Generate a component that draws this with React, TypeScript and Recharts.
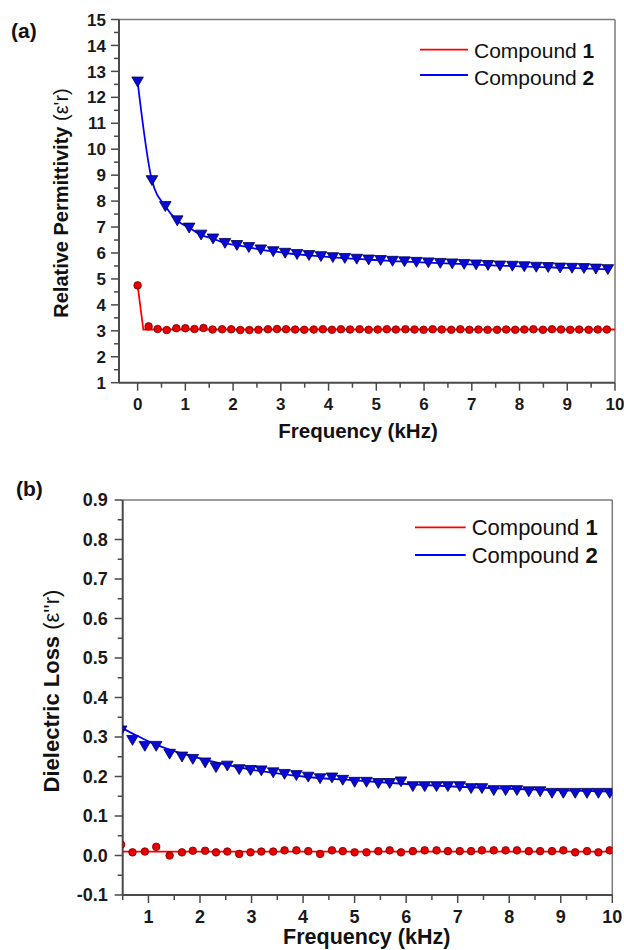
import React from 'react';
import { ComposedChart, XAxis, YAxis, Line, Scatter, ReferenceLine } from 'recharts';

const FONT = '"Liberation Sans", Arial, Helvetica, sans-serif';
const AXIS = '#4a4a4a';
const FRAME = '#7a7a7a';
const RED = '#ff0000';
const BLUE = '#0000ff';

// ---------- Panel (a): Relative permittivity ----------
const TOP_X_TICKS = [0, 0.5, 1, 1.5, 2, 2.5, 3, 3.5, 4, 4.5, 5, 5.5, 6, 6.5, 7, 7.5, 8, 8.5, 9, 9.5, 10];
const TOP_Y_TICKS = [1, 1.5, 2, 2.5, 3, 3.5, 4, 4.5, 5, 5.5, 6, 6.5, 7, 7.5, 8, 8.5, 9, 9.5, 10, 10.5, 11, 11.5, 12, 12.5, 13, 13.5, 14, 14.5, 15];

const TOP_C2_X = [0.0, 0.30, 0.58, 0.83, 1.08, 1.33, 1.58, 1.83, 2.08, 2.33, 2.58, 2.84, 3.09, 3.34, 3.59, 3.84, 4.09, 4.34, 4.59, 4.84, 5.09, 5.34, 5.59, 5.84, 6.09, 6.34, 6.59, 6.84, 7.09, 7.34, 7.59, 7.85, 8.10, 8.35, 8.60, 8.85, 9.10, 9.35, 9.60, 9.85];
const TOP_C2_Y = [12.6, 8.8, 7.8, 7.25, 6.97, 6.7, 6.55, 6.38, 6.3, 6.22, 6.13, 6.06, 6.0, 5.95, 5.91, 5.87, 5.83, 5.8, 5.77, 5.74, 5.72, 5.69, 5.67, 5.65, 5.63, 5.61, 5.59, 5.57, 5.55, 5.53, 5.51, 5.5, 5.48, 5.46, 5.45, 5.43, 5.42, 5.41, 5.39, 5.37];

const TOP_C1_X = [0.0, 0.23, 0.42, 0.61, 0.81, 1.00, 1.19, 1.38, 1.57, 1.77, 1.96, 2.15, 2.34, 2.53, 2.73, 2.92, 3.11, 3.30, 3.49, 3.69, 3.88, 4.07, 4.26, 4.45, 4.65, 4.84, 5.03, 5.22, 5.41, 5.61, 5.80, 5.99, 6.18, 6.37, 6.57, 6.76, 6.95, 7.14, 7.33, 7.53, 7.72, 7.91, 8.10, 8.29, 8.49, 8.68, 8.87, 9.06, 9.25, 9.45, 9.64, 9.83];
const TOP_C1_Y = [4.75, 3.17, 3.07, 3.03, 3.10, 3.10, 3.07, 3.11, 3.05, 3.06, 3.06, 3.03, 3.03, 3.04, 3.06, 3.07, 3.06, 3.05, 3.04, 3.05, 3.06, 3.04, 3.06, 3.05, 3.06, 3.04, 3.05, 3.06, 3.05, 3.06, 3.05, 3.04, 3.06, 3.05, 3.04, 3.06, 3.04, 3.05, 3.04, 3.04, 3.05, 3.04, 3.05, 3.06, 3.04, 3.06, 3.05, 3.04, 3.05, 3.04, 3.05, 3.05];

const TOP_C1_FIT_X = [0.0, 0.12, 10];
const TOP_C1_FIT_Y = [4.75, 3.05, 3.05];

// ---------- Panel (b): Dielectric loss ----------
const BOT_X_TICKS = [0.5, 1, 1.5, 2, 2.5, 3, 3.5, 4, 4.5, 5, 5.5, 6, 6.5, 7, 7.5, 8, 8.5, 9, 9.5, 10];
const BOT_Y_TICKS = [-0.1, -0.05, 0, 0.05, 0.1, 0.15, 0.2, 0.25, 0.3, 0.35, 0.4, 0.45, 0.5, 0.55, 0.6, 0.65, 0.7, 0.75, 0.8, 0.85, 0.9];

const BOT_X = [0.47, 0.69, 0.93, 1.15, 1.41, 1.65, 1.86, 2.10, 2.31, 2.53, 2.76, 2.98, 3.19, 3.42, 3.64, 3.87, 4.10, 4.33, 4.56, 4.77, 5.00, 5.23, 5.46, 5.68, 5.90, 6.13, 6.36, 6.59, 6.81, 7.04, 7.26, 7.47, 7.70, 7.93, 8.15, 8.38, 8.60, 8.83, 9.05, 9.28, 9.51, 9.73, 9.95];
const BOT_C2_Y = [0.316, 0.292, 0.277, 0.277, 0.257, 0.250, 0.244, 0.235, 0.223, 0.227, 0.218, 0.216, 0.215, 0.210, 0.206, 0.203, 0.199, 0.195, 0.197, 0.191, 0.186, 0.186, 0.183, 0.183, 0.187, 0.175, 0.175, 0.175, 0.175, 0.175, 0.170, 0.170, 0.165, 0.165, 0.165, 0.162, 0.162, 0.158, 0.158, 0.158, 0.158, 0.158, 0.158];
const BOT_C1_Y = [0.028, 0.008, 0.010, 0.022, 0.000, 0.008, 0.012, 0.012, 0.008, 0.010, 0.004, 0.008, 0.010, 0.010, 0.013, 0.013, 0.011, 0.004, 0.013, 0.011, 0.008, 0.008, 0.011, 0.013, 0.008, 0.011, 0.013, 0.013, 0.011, 0.011, 0.011, 0.013, 0.013, 0.013, 0.013, 0.011, 0.011, 0.011, 0.013, 0.008, 0.011, 0.008, 0.013];

const BOT_C2_FIT_X = [0.5, 0.75, 1, 1.5, 2, 2.5, 3, 3.5, 4, 5, 6, 7, 8, 9, 10];
const BOT_C2_FIT_Y = [0.322, 0.305, 0.289, 0.264, 0.246, 0.23, 0.217, 0.208, 0.2, 0.19, 0.181, 0.174, 0.169, 0.165, 0.162];
const BOT_C1_FIT_X = [0.5, 10];
const BOT_C1_FIT_Y = [0.01, 0.01];

const zip = (xs: number[], ys: number[]) => xs.map((x, i) => ({ x, y: ys[i] }));

const isInt = (v: number) => Math.abs(v - Math.round(v)) < 1e-6;
const isTenth = (v: number) => Math.abs(v * 10 - Math.round(v * 10)) < 1e-6;

function makeXTick(fontSize: number, labelOffset: number, isMajor: (v: number) => boolean, fmt: (v: number) => string) {
  return (props: any) => {
    const { x, y, payload } = props;
    const v = payload.value;
    const major = isMajor(v);
    return (
      <g>
        <line x1={x} x2={x} y1={y} y2={y + (major ? 8 : 5)} stroke={AXIS} strokeWidth={1.5} />
        {major ? (
          <text x={x} y={y + labelOffset} textAnchor="middle" fontFamily={FONT} fontWeight="bold" fontSize={fontSize} fill="#1a1a1a">
            {fmt(v)}
          </text>
        ) : null}
      </g>
    );
  };
}

function makeYTick(fontSize: number, labelGap: number, isMajor: (v: number) => boolean, fmt: (v: number) => string) {
  return (props: any) => {
    const { x, y, payload } = props;
    const v = payload.value;
    const major = isMajor(v);
    return (
      <g>
        <line x1={x} x2={x - (major ? 8 : 5)} y1={y} y2={y} stroke={AXIS} strokeWidth={1.5} />
        {major ? (
          <text x={x - labelGap} y={y + fontSize * 0.36} textAnchor="end" fontFamily={FONT} fontWeight="bold" fontSize={fontSize} fill="#1a1a1a">
            {fmt(v)}
          </text>
        ) : null}
      </g>
    );
  };
}

const Triangle = (props: any) => {
  const { cx, cy } = props;
  if (cx == null || cy == null) return <g />;
  const w = 5.8;
  return (
    <path
      d={`M${cx - w},${cy - 4.7} L${cx + w},${cy - 4.7} L${cx},${cy + 5.2} Z`}
      fill="#0808d8"
      stroke="#00004a"
      strokeWidth={0.8}
    />
  );
};

const Dot = (props: any) => {
  const { cx, cy } = props;
  if (cx == null || cy == null) return <g />;
  return <circle cx={cx} cy={cy} r={3.8} fill="#e80000" stroke="#7a0000" strokeWidth={0.8} />;
};

export default function App() {
  const topC2 = zip(TOP_C2_X, TOP_C2_Y);
  const topC1 = zip(TOP_C1_X, TOP_C1_Y);
  const topC1Fit = zip(TOP_C1_FIT_X, TOP_C1_FIT_Y);
  const botC2 = zip(BOT_X, BOT_C2_Y);
  const botC1 = zip(BOT_X, BOT_C1_Y);
  const botC2Fit = zip(BOT_C2_FIT_X, BOT_C2_FIT_Y);
  const botC1Fit = zip(BOT_C1_FIT_X, BOT_C1_FIT_Y);

  return (
    <div style={{ position: 'absolute', left: 0, top: 0, width: 624, height: 950, background: '#fff' }}>
      <div style={{ position: 'absolute', left: 0, top: 0, width: 624, height: 470 }}>
        <ComposedChart width={624} height={470} margin={{ top: 19.5, right: 9, bottom: 57.3, left: 59 }}>
          <XAxis
            type="number"
            dataKey="x"
            domain={[-0.39, 10]}
            allowDataOverflow
            ticks={TOP_X_TICKS}
            interval={0}
            height={30}
            tickLine={false}
            tickSize={0}
            tickMargin={0}
            axisLine={{ stroke: AXIS, strokeWidth: 2 }}
            tick={makeXTick(17, 27.5, isInt, (v) => String(v))}
          />
          <YAxis
            type="number"
            dataKey="y"
            domain={[1, 15]}
            allowDataOverflow
            ticks={TOP_Y_TICKS}
            interval={0}
            width={60}
            tickLine={false}
            tickSize={0}
            tickMargin={0}
            axisLine={{ stroke: AXIS, strokeWidth: 2 }}
            tick={makeYTick(17, 13, isInt, (v) => String(v))}
          />
          <ReferenceLine y={15} stroke={FRAME} strokeWidth={1.5} />
          <ReferenceLine x={10} stroke={FRAME} strokeWidth={1.5} />
          <Line data={topC2} dataKey="y" type="monotone" stroke={BLUE} strokeWidth={1.8} dot={false} isAnimationActive={false} />
          <Line data={topC1Fit} dataKey="y" type="linear" stroke={RED} strokeWidth={1.8} dot={false} isAnimationActive={false} />
          <Scatter data={topC2} dataKey="y" shape={Triangle} isAnimationActive={false} />
          <Scatter data={topC1} dataKey="y" shape={Dot} isAnimationActive={false} />
        </ComposedChart>
      </div>

      <div style={{ position: 'absolute', left: 0, top: 470, width: 624, height: 480 }}>
        <ComposedChart width={624} height={480} margin={{ top: 30, right: 11.7, bottom: 25, left: 62.7 }}>
          <XAxis
            type="number"
            dataKey="x"
            domain={[0.5, 10]}
            allowDataOverflow
            ticks={BOT_X_TICKS}
            interval={0}
            height={30}
            tickLine={false}
            tickSize={0}
            tickMargin={0}
            axisLine={{ stroke: AXIS, strokeWidth: 2 }}
            tick={makeXTick(18, 27.5, isInt, (v) => String(v))}
          />
          <YAxis
            type="number"
            dataKey="y"
            domain={[-0.1, 0.9]}
            allowDataOverflow
            ticks={BOT_Y_TICKS}
            interval={0}
            width={60}
            tickLine={false}
            tickSize={0}
            tickMargin={0}
            axisLine={{ stroke: AXIS, strokeWidth: 2 }}
            tick={makeYTick(18, 15, isTenth, (v) => v.toFixed(1))}
          />
          <ReferenceLine y={0.9} stroke={FRAME} strokeWidth={1.5} />
          <ReferenceLine x={10} stroke={FRAME} strokeWidth={1.5} />
          <Line data={botC2Fit} dataKey="y" type="monotone" stroke={BLUE} strokeWidth={1.8} dot={false} isAnimationActive={false} />
          <Line data={botC1Fit} dataKey="y" type="linear" stroke={RED} strokeWidth={1.8} dot={false} isAnimationActive={false} />
          <Scatter data={botC2} dataKey="y" shape={Triangle} isAnimationActive={false} />
          <Scatter data={botC1} dataKey="y" shape={Dot} isAnimationActive={false} />
        </ComposedChart>
      </div>

      <svg width={624} height={950} style={{ position: 'absolute', left: 0, top: 0, pointerEvents: 'none' }}>
        <g fontFamily={FONT} fill="#111">
          <text x={11} y={38} fontSize={21} fontWeight="bold">(a)</text>
          <text x={16} y={496} fontSize={21} fontWeight="bold">(b)</text>

          <text transform="translate(68,203) rotate(-90)" textAnchor="middle" fontSize={20} fontWeight="bold">
            Relative Permittivity <tspan fontWeight="normal">(ε'r)</tspan>
          </text>
          <text x={358} y={438} textAnchor="middle" fontSize={20.5} fontWeight="bold">Frequency (kHz)</text>

          <text transform="translate(59,691) rotate(-90)" textAnchor="middle" fontSize={22} fontWeight="bold">
            Dielectric Loss <tspan fontWeight="normal">(ε''r)</tspan>
          </text>
          <text x={366.7} y={944} textAnchor="middle" fontSize={21.5} fontWeight="bold">Frequency (kHz)</text>

          <line x1={420} x2={468} y1={49.7} y2={49.7} stroke={RED} strokeWidth={1.8} />
          <text x={474} y={58} fontSize={21}>Compound <tspan fontWeight="bold">1</tspan></text>
          <line x1={420} x2={468} y1={75} y2={75} stroke={BLUE} strokeWidth={1.8} />
          <text x={474} y={84.5} fontSize={21}>Compound <tspan fontWeight="bold">2</tspan></text>

          <line x1={415} x2={465.7} y1={527.3} y2={527.3} stroke={RED} strokeWidth={1.8} />
          <text x={471.7} y={535} fontSize={22}>Compound <tspan fontWeight="bold">1</tspan></text>
          <line x1={415} x2={465.7} y1={555} y2={555} stroke={BLUE} strokeWidth={1.8} />
          <text x={471.7} y={562.7} fontSize={22}>Compound <tspan fontWeight="bold">2</tspan></text>
        </g>
      </svg>
    </div>
  );
}
